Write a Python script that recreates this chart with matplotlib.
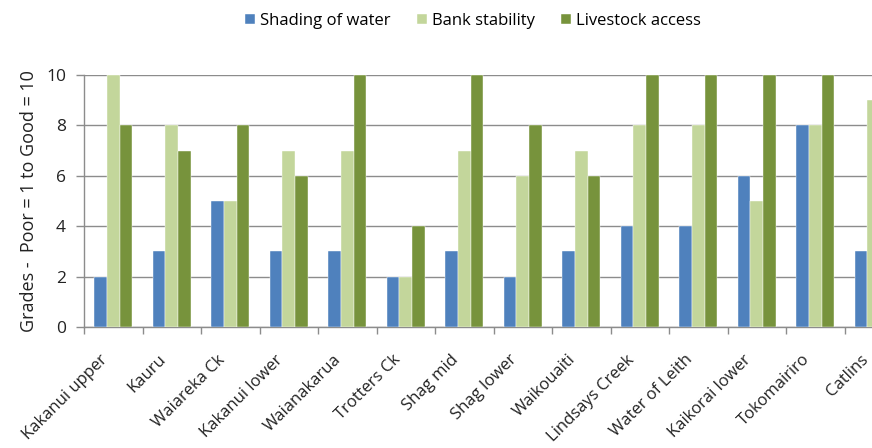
import numpy as np
import matplotlib
matplotlib.use("Agg")
import matplotlib.pyplot as plt
from matplotlib.transforms import ScaledTranslation

categories = ["Kakanui upper", "Kauru", "Waiareka Ck", "Kakanui lower", "Waianakarua",
              "Trotters Ck", "Shag mid", "Shag lower", "Waikouaiti", "Lindsays Creek",
              "Water of Leith", "Kaikorai lower", "Tokomairiro", "Catlins"]
shading = [2, 3, 5, 3, 3, 2, 3, 2, 3, 4, 4, 6, 8, 3]
bank = [10, 8, 5, 7, 7, 2, 7, 6, 7, 8, 8, 5, 8, 9]
livestock = [8, 7, 8, 6, 10, 4, 10, 8, 6, 10, 10, 10, 10, np.nan]
series_names = ["Shading of water", "Bank stability", "Livestock access"]
colors = ["#4F81BD", "#C3D69B", "#77933C"]

plt.rcParams['font.family'] = ['Open Sans', 'DejaVu Sans']

W, H = 872, 448
fig = plt.figure(figsize=(W / 100, H / 100), dpi=100)
n = len(categories)
cat_w = 58.5
left_px, bottom_px, top_px = 84, 327, 75
ax = fig.add_axes([left_px / W, (H - bottom_px) / H, n * cat_w / W, (bottom_px - top_px) / H])

x = np.arange(n)
bw = 0.65 / 3
for i, (vals, name, c) in enumerate(zip([shading, bank, livestock], series_names, colors)):
    ax.bar(x + (i - 1) * bw, vals, width=bw, color=c, label=name,
           edgecolor="white", linewidth=0.3, zorder=3)

ax.set_xlim(-0.5, n - 0.5)
ax.set_ylim(0, 10)
ax.set_yticks(np.arange(0, 11, 2))
ax.yaxis.grid(True, color="#8c8c8c", linewidth=1.0, zorder=0)
ax.set_axisbelow(True)

ax.set_xticks(x)
ax.set_xticks(np.arange(n + 1) - 0.5, minor=True)
ax.tick_params(axis="x", which="major", length=0, pad=24)
ax.tick_params(axis="x", which="minor", length=5, color="#8c8c8c", width=1)
ax.tick_params(axis="y", length=6, color="#8c8c8c", width=1, labelsize=12.5,
               labelcolor="#222222", pad=7)
ax.set_xticklabels(categories, rotation=45, ha="right", va="center", rotation_mode="anchor",
                   fontsize=12, color="#222222")
offset = ScaledTranslation(-8 / 100, 3 / 100, fig.dpi_scale_trans)
for lab in ax.get_xticklabels():
    lab.set_transform(lab.get_transform() + offset)

for s in ["top", "right"]:
    ax.spines[s].set_visible(False)
for s in ["left", "bottom"]:
    ax.spines[s].set_color("#8c8c8c")
    ax.spines[s].set_linewidth(1)

ax.set_ylabel("Grades -  Poor = 1 to Good = 10", fontsize=13, color="#222222", labelpad=6)

fig.legend(loc="center", bbox_to_anchor=(473 / W, 1 - 21 / H), ncol=3, frameon=False,
           fontsize=12, handlelength=0.6, handleheight=0.6, handletextpad=0.3,
           columnspacing=1.6)

fig.savefig("out.png", dpi=100)
